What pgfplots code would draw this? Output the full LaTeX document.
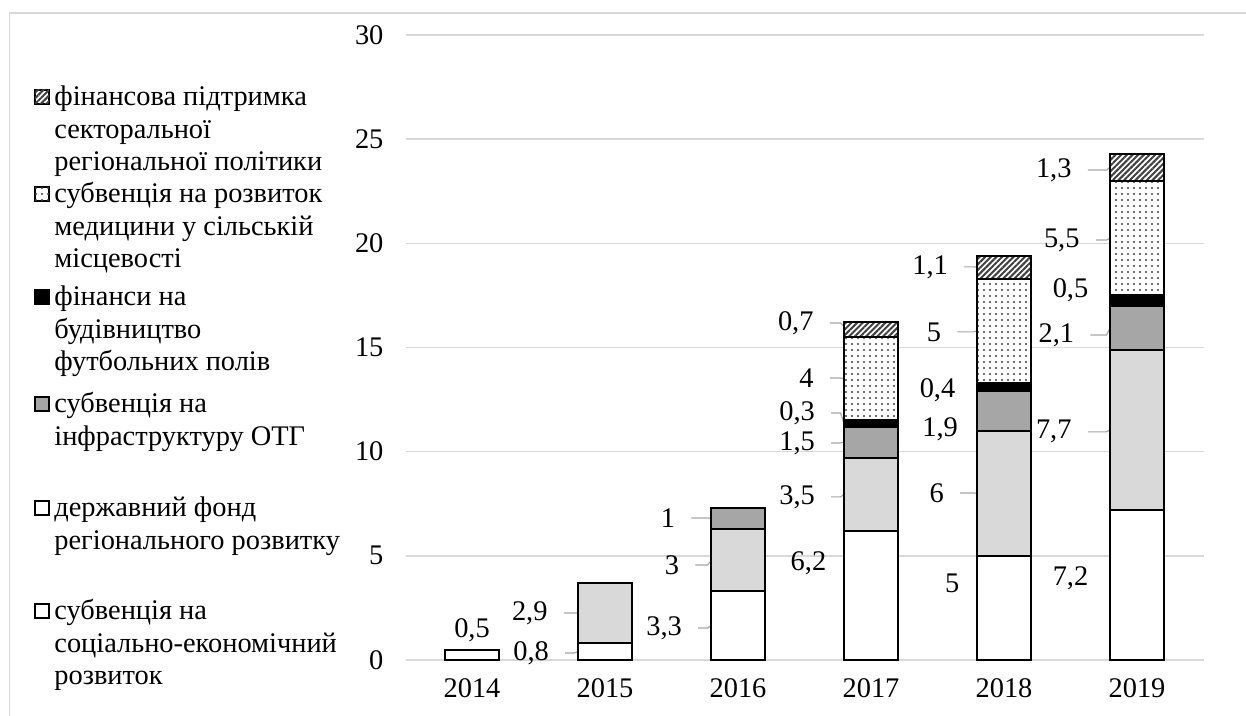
\documentclass[border=0pt]{standalone}
\usepackage{fontspec}
\setmainfont{Liberation Serif}
\usepackage{pgfplots}
\pgfplotsset{compat=1.18}
\usetikzlibrary{patterns,patterns.meta}

\definecolor{gridgray}{HTML}{D9D9D9}
\definecolor{lightbar}{HTML}{D9D9D9}
\definecolor{midbar}{HTML}{A6A6A6}
\definecolor{leadgray}{HTML}{A6A6A6}

\newcommand{\fs}{\fontsize{14.2}{16.25}\selectfont}

\tikzset{
  medpat/.style={fill=white, postaction={pattern={Dots[distance=3pt, radius=0.55pt]}, pattern color=black!75}},
  secpat/.style={fill=white, postaction={pattern={Lines[angle=45, distance=2pt, line width=1pt]}, pattern color=black!75}},
}

% plain value label
\newcommand{\vl}[3]{\node[font=\fs] at (axis cs:#1,#2) {#3};}
% value label with a leader line: start x, label y, segment middle y, bar edge x, text
\newcommand{\ld}[5]{%
  \node[font=\fs, anchor=east, xshift=-4.6pt] at (axis cs:#1,#2) {#5};
  \draw[leadgray, line width=0.6pt] (axis cs:#1,#2) -- ([xshift=-1.7pt]axis cs:#4,#2) -- (axis cs:#4,#3);}

% legend entry pieces
\newcommand{\lsq}[2]{\path[#1, draw=black, line width=0.75pt] (17.5pt,#2+1pt) rectangle (24.5pt,#2+8pt);}
\newcommand{\lline}[2]{\node[font=\fs, anchor=base west, inner sep=0pt] at (27pt,#1) {#2};}

\begin{document}
\begin{tikzpicture}
\begin{axis}[
  at={(202.75pt,28pt)}, anchor=south west,
  scale only axis, width=399pt, height=312.5pt,
  xmin=-0.5, xmax=5.5, ymin=0, ymax=30,
  ytick={0,5,...,30}, xtick={0,1,2,3,4,5},
  xticklabels={2014,2015,2016,2017,2018,2019},
  ymajorgrids, grid style={gridgray, line width=0.75pt},
  axis line style={draw=none}, major tick length=0pt,
  ticklabel style={font=\fs},
  yticklabel style={xshift=-7.5pt},
  xticklabel style={yshift=-6pt},
  /pgf/number format/assume math mode=true,
  ybar stacked, bar width=27pt,
  every axis plot/.append style={draw=black, line width=1pt},
  clip=false,
]
% субвенція на соціально-економічний розвиток
\addplot[fill=white] coordinates {(0,0.5) (1,0.8) (2,3.3) (3,6.2) (4,5) (5,7.2)};
% державний фонд регіонального розвитку
\addplot[fill=lightbar] coordinates {(0,0) (1,2.9) (2,3) (3,3.5) (4,6) (5,7.7)};
% субвенція на інфраструктуру ОТГ
\addplot[fill=midbar] coordinates {(0,0) (1,0) (2,1) (3,1.5) (4,1.9) (5,2.1)};
% фінанси на будівництво футбольних полів
\addplot[fill=black] coordinates {(0,0) (1,0) (2,0) (3,0.3) (4,0.4) (5,0.5)};
% субвенція на розвиток медицини у сільській місцевості
\addplot[medpat] coordinates {(0,0) (1,0) (2,0) (3,4) (4,5) (5,5.5)};
% фінансова підтримка секторальної регіональної політики
\addplot[secpat] coordinates {(0,0) (1,0) (2,0) (3,0.7) (4,1.1) (5,1.3)};

% 2014
\vl{0}{1.44}{0,5}
% 2015
\ld{0.70}{0.34}{0.40}{0.797}{0,8}
\ld{0.69}{2.26}{2.25}{0.797}{2,9}
% 2016
\ld{1.70}{1.54}{1.65}{1.797}{3,3}
\ld{1.68}{4.56}{4.75}{1.797}{3}
\ld{1.65}{6.82}{6.8}{1.797}{1}
% 2017
\vl{2.53}{4.66}{6,2}
\ld{2.70}{7.83}{7.95}{2.797}{3,5}
\ld{2.70}{10.42}{10.45}{2.797}{1,5}
\ld{2.70}{11.86}{11.35}{2.797}{0,3}
\ld{2.69}{13.54}{13.5}{2.797}{4}
\ld{2.69}{16.18}{16.0}{2.797}{0,7}
% 2018
\vl{3.61}{3.70}{5}
\ld{3.67}{8.02}{8.0}{3.797}{6}
\vl{3.52}{11.09}{1,9}
\vl{3.50}{12.96}{0,4}
\ld{3.65}{15.75}{15.8}{3.797}{5}
\ld{3.70}{18.87}{18.85}{3.797}{1,1}
% 2019
\vl{4.50}{3.94}{7,2}
\ld{4.63}{10.95}{11.05}{4.797}{7,7}
\ld{4.65}{15.60}{15.95}{4.797}{2,1}
\vl{4.50}{17.76}{0,5}
\ld{4.69}{20.16}{20.25}{4.797}{5,5}
\ld{4.63}{23.52}{23.65}{4.797}{1,3}
\end{axis}

% legend
\lsq{secpat}{305pt}
\lline{305pt}{фінансова підтримка}
\lline{288.75pt}{секторальної}
\lline{272.5pt}{регіональної політики}

\lsq{medpat}{256.5pt}
\lline{256.5pt}{субвенція на розвиток}
\lline{240.25pt}{медицини у сільській}
\lline{224pt}{місцевості}

\lsq{fill=black}{205pt}
\lline{205pt}{фінанси на}
\lline{188.75pt}{будівництво}
\lline{172.5pt}{футбольних полів}

\lsq{fill=midbar}{151.5pt}
\lline{151.5pt}{субвенція на}
\lline{135.25pt}{інфраструктуру ОТГ}

\lsq{fill=white}{99.5pt}
\lline{99.5pt}{державний фонд}
\lline{83.25pt}{регіонального розвитку}

\lsq{fill=white}{48pt}
\lline{48pt}{субвенція на}
\lline{31.75pt}{соціально-економічний}
\lline{15.5pt}{розвиток}

% chart frame
\draw[gridgray, line width=0.75pt] (4.75pt,0pt) -- (4.75pt,351.5pt) -- (623pt,351.5pt);

\pgfresetboundingbox
\useasboundingbox (0pt,0pt) rectangle (623pt,358pt);
\end{tikzpicture}
\end{document}
